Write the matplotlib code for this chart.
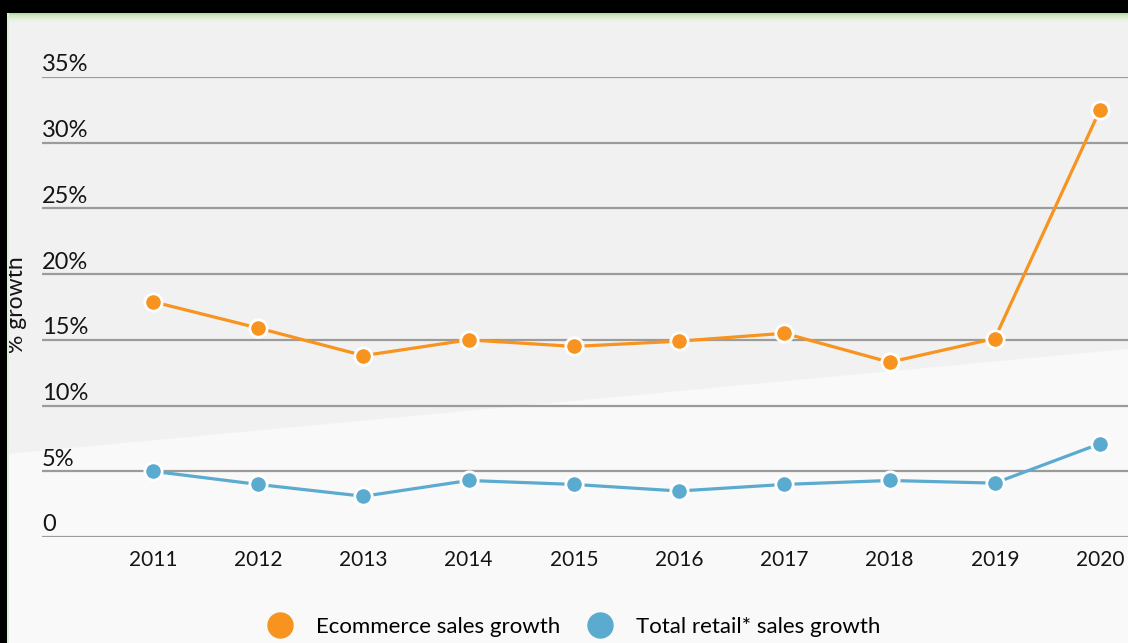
import matplotlib.pyplot as plt
import matplotlib.patches as mpatches
from matplotlib.lines import Line2D
import matplotlib.transforms as mtransforms

plt.rcParams['font.family'] = ['Lato', 'DejaVu Sans']

years = [2011, 2012, 2013, 2014, 2015, 2016, 2017, 2018, 2019, 2020]
ecommerce_growth = [17.9, 15.9, 13.8, 15.0, 14.5, 14.9, 15.5, 13.3, 15.1, 32.5]
retail_growth = [5.0, 4.0, 3.1, 4.3, 4.0, 3.5, 4.0, 4.3, 4.1, 7.1]
y_ticks = [0, 5, 10, 15, 20, 25, 30, 35]
y_tick_labels = ['0', '5%', '10%', '15%', '20%', '25%', '30%', '35%']

ORANGE = '#f7931e'
BLUE = '#5aabcf'
TEXT = '#151515'

W, H = 1128, 643
fig = plt.figure(figsize=(W / 100, H / 100), dpi=100)
fig.patch.set_facecolor('#f1f1f1')

# lighter lower wedge of the background
wedge = mpatches.Polygon([(7 / W, 1 - 454 / H), (1.0, 1 - 349 / H), (1.0, 0.0), (7 / W, 0.0)],
                         closed=True, transform=fig.transFigure, facecolor='#f9f9f9',
                         edgecolor='none', zorder=-5)
fig.patches.append(wedge)

# frame: black top band, green strip, black left strip
fig.patches.append(mpatches.Rectangle((0, 1 - 13 / H), 1, 13 / H, transform=fig.transFigure,
                                      facecolor='black', edgecolor='none', zorder=10))
for i, c in enumerate(['#c6e2b6', '#d3e8c6', '#e0edd6', '#e9f0e4', '#eef1ec']):
    fig.patches.append(mpatches.Rectangle((0, 1 - (15 + 2 * i) / H), 1, 2 / H,
                                          transform=fig.transFigure, facecolor=c,
                                          edgecolor='none', zorder=10))
fig.patches.append(mpatches.Rectangle((0, 1 - 15 / H), 1, 2 / H, transform=fig.transFigure,
                                      facecolor='#bcdcaa', edgecolor='none', zorder=10))
fig.patches.append(mpatches.Rectangle((0, 0), 7 / W, 1, transform=fig.transFigure,
                                      facecolor='black', edgecolor='none', zorder=11))
fig.patches.append(mpatches.Rectangle((7 / W, 0), 2 / W, 1 - 13 / H, transform=fig.transFigure,
                                      facecolor='#dfeed6', edgecolor='none', zorder=11))

# axes placed so that 0 sits at y=537px and 35% at y=77px
left, right = 42, 1128
y0, y35 = 537, 77
ax = fig.add_axes([left / W, 1 - y0 / H, (right - left) / W, (y0 - y35) / H])
ax.set_zorder(5)
ax.set_facecolor('none')
px_per_year = (1100 - 153) / 9
ax.set_xlim(2011 - (153 - left) / px_per_year, 2020 + (right - 1100) / px_per_year)
ax.set_ylim(0, 35)
for s in ax.spines.values():
    s.set_visible(False)
ax.set_yticks([])
ax.set_xticks(years)
ax.set_xticklabels([str(y) for y in years], fontsize=15, color=TEXT)
ax.tick_params(axis='x', length=0, pad=9)

for t in y_ticks:
    ax.axhline(t, color='#9b9b9b', linewidth=1.6, zorder=1)
trans = mtransforms.blended_transform_factory(ax.transAxes, ax.transData)
for t, lab in zip(y_ticks, y_tick_labels):
    ax.text(0.0, t + 0.12, lab, transform=trans, ha='left', va='bottom',
            fontsize=17, color=TEXT)

ax.plot(years, ecommerce_growth, color=ORANGE, linewidth=2.3, marker='o', markersize=12.5,
        markerfacecolor=ORANGE, markeredgecolor='white', markeredgewidth=2, zorder=3,
        clip_on=False)
ax.plot(years, retail_growth, color=BLUE, linewidth=2.3, marker='o', markersize=12.5,
        markerfacecolor=BLUE, markeredgecolor='white', markeredgewidth=2, zorder=3,
        clip_on=False)

fig.text(17 / W, 1 - 305 / H, '% growth', rotation=90, ha='center', va='center',
         fontsize=16.5, color=TEXT)

handles = [Line2D([], [], linestyle='none', marker='o', markersize=18, color=ORANGE),
           Line2D([], [], linestyle='none', marker='o', markersize=18, color=BLUE)]
fig.legend(handles, ['Ecommerce sales growth', 'Total retail* sales growth'],
           loc='center', bbox_to_anchor=(569 / W, 1 - 627 / H), ncol=2, frameon=False,
           fontsize=16, handletextpad=0.6, columnspacing=0.8, borderpad=0)

fig.savefig('out.png', dpi=100, facecolor=fig.get_facecolor())
